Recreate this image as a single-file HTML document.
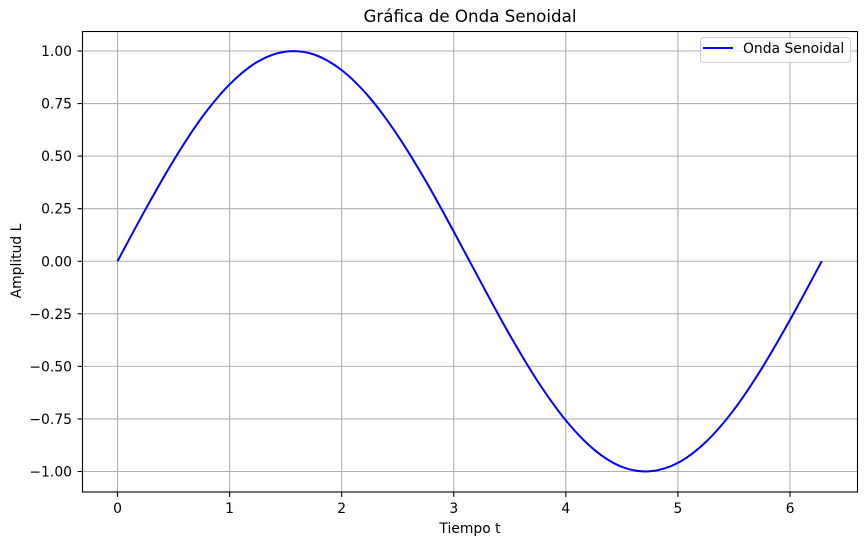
<!DOCTYPE html>
<html><head><meta charset="utf-8">
<style>
html,body{margin:0;padding:0;background:#fff;}
svg{display:block;font-family:"DejaVu Sans","Liberation Sans",sans-serif;}
</style></head>
<body>
<svg id="chart" width="866" height="545" viewBox="0 0 866 545" xmlns="http://www.w3.org/2000/svg">
<rect width="866" height="545" fill="#fff"/>
<g id="grid"></g>
<g id="ticks"></g>
<path id="series" fill="none" stroke="#0000ff" stroke-width="2"/>
<rect x="82.5" y="31.5" width="775" height="460.5" fill="none" stroke="#000" stroke-width="1.1"/>
<text x="470" y="22" font-size="16.7" text-anchor="middle">Gráfica de Onda Senoidal</text>
<text x="470" y="533" font-size="13.9" text-anchor="middle">Tiempo t</text>
<text transform="translate(21,261) rotate(-90)" font-size="13.9" text-anchor="middle">Amplitud L</text>
<g>
<rect x="700.5" y="37.5" width="150" height="25" rx="3" fill="#fff" fill-opacity="0.8" stroke="#d0d0d0" stroke-width="1"/>
<line x1="703" y1="48" x2="733" y2="48" stroke="#0000ff" stroke-width="2"/>
<text x="743" y="53" font-size="13.9">Onda Senoidal</text>
</g>
</svg>
<script>
const xs = [0,0.25,0.5,0.75,1,1.25,1.5,1.75,2,2.25,2.5,2.75,3,3.25,3.5,3.75,4,4.25,4.5,4.75,5,5.25,5.5,5.75,6,6.25,6.283];
const ys = [0,0.247,0.479,0.682,0.841,0.949,0.997,0.984,0.909,0.778,0.598,0.382,0.141,-0.108,-0.351,-0.572,-0.757,-0.895,-0.978,-0.999,-0.959,-0.859,-0.706,-0.508,-0.279,-0.033,0];
const xTicks = [0,1,2,3,4,5,6];
const yTicks = [1,0.75,0.5,0.25,0,-0.25,-0.5,-0.75,-1];

const L=82.5,R=857.5,T=31.5,B=492;
function sx(v){return 117.5+v*(790-117.5)/6;}
function sy(v){return 261.25-v*210.25;}
const NS="http://www.w3.org/2000/svg";
const grid=document.getElementById('grid'), ticks=document.getElementById('ticks');
function mk(tag,attrs,parent){const e=document.createElementNS(NS,tag);for(const k in attrs)e.setAttribute(k,attrs[k]);parent.appendChild(e);return e;}
xTicks.forEach(t=>{
  const x=sx(t);
  const g=mk('line',{x1:x,x2:x,y1:T,y2:B,stroke:'#b0b0b0','stroke-width':1.1},grid);
  
  
  const tk=mk('line',{x1:x,x2:x,y1:B,y2:B+4.9,stroke:'#000','stroke-width':1.1},ticks);
  
  
  const tx=mk('text',{x:x,y:513,'font-size':13.9,'text-anchor':'middle'},ticks);
  tx.textContent=String(t);
  
  
});
yTicks.forEach(t=>{
  const y=sy(t);
  const g=mk('line',{x1:L,x2:R,y1:y,y2:y,stroke:'#b0b0b0','stroke-width':1.1},grid);
  
  
  const tk=mk('line',{x1:L-4.9,x2:L,y1:y,y2:y,stroke:'#000','stroke-width':1.1},ticks);
  
  
  const tx=mk('text',{x:72,y:y+5,'font-size':13.9,'text-anchor':'end'},ticks);
  tx.textContent=(t<0?'\u2212':'')+Math.abs(t).toFixed(2);
  
  
});
const P=xs.map((x,i)=>[sx(x),sy(ys[i])]);
let d='M'+P[0][0]+','+P[0][1];
for(let i=0;i<P.length-1;i++){
  const p0=P[Math.max(0,i-1)],p1=P[i],p2=P[i+1],p3=P[Math.min(P.length-1,i+2)];
  const c1=[p1[0]+(p2[0]-p0[0])/6,p1[1]+(p2[1]-p0[1])/6];
  const c2=[p2[0]-(p3[0]-p1[0])/6,p2[1]-(p3[1]-p1[1])/6];
  d+=' C'+c1[0]+','+c1[1]+' '+c2[0]+','+c2[1]+' '+p2[0]+','+p2[1];
}
document.getElementById('series').setAttribute('d',d);
</script>
</body></html>
